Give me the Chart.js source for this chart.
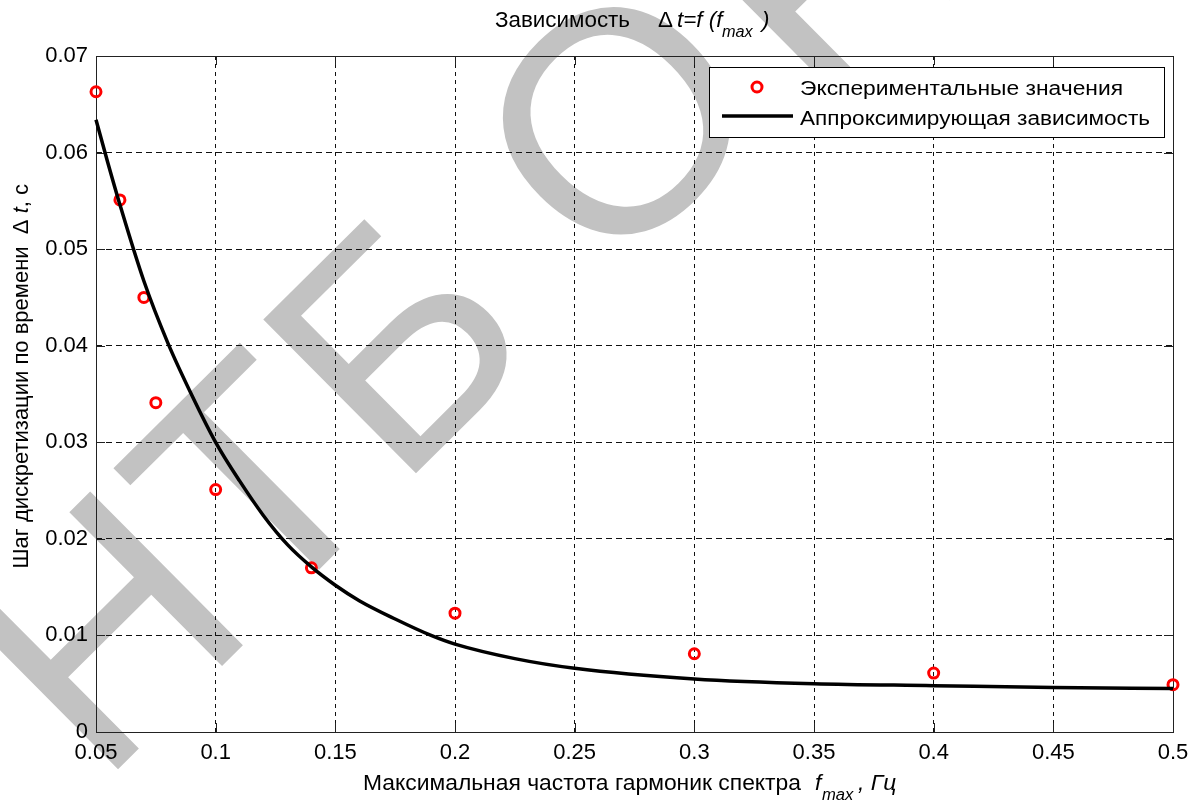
<!DOCTYPE html>
<html><head><meta charset="utf-8">
<script src="https://cdn.jsdelivr.net/npm/chart.js@4"></script>
<style>html,body{margin:0;padding:0;background:#fff;}canvas{display:block}</style>
</head><body>
<canvas id="c" width="1198" height="803"></canvas>
<script>
// ---- data ----
const expX = [0.05, 0.06, 0.07, 0.075, 0.1, 0.14, 0.2, 0.3, 0.4, 0.5];
const expY = [0.0663, 0.0551, 0.0450, 0.0341, 0.0251, 0.0170, 0.0123, 0.0081, 0.0061, 0.0049];
const fitX = [0.05, 0.055, 0.06, 0.07, 0.08, 0.09, 0.1, 0.11, 0.12, 0.13, 0.14, 0.15, 0.16, 0.175, 0.19, 0.2, 0.225, 0.25, 0.3, 0.35, 0.4, 0.45, 0.5];
const fitY = [0.0634, 0.0589, 0.0546, 0.0467, 0.0403, 0.0349, 0.0300, 0.0260, 0.0224, 0.0194, 0.0171, 0.0152, 0.0136, 0.0117, 0.0100, 0.0091, 0.0076, 0.0066, 0.0055, 0.0050, 0.0048, 0.0046, 0.0045];
const xTicks = [0.05, 0.1, 0.15, 0.2, 0.25, 0.3, 0.35, 0.4, 0.45, 0.5];
const xTickLabels = ['0.05', '0.1', '0.15', '0.2', '0.25', '0.3', '0.35', '0.4', '0.45', '0.5'];
const yTicks = [0, 0.01, 0.02, 0.03, 0.04, 0.05, 0.06, 0.07];
const yTickLabels = ['0', '0.01', '0.02', '0.03', '0.04', '0.05', '0.06', '0.07'];
const expLabel = 'Экспериментальные значения';
const fitLabel = 'Аппроксимирующая зависимость';
const watermarkA = 'НТБ О';
const watermarkB = 'НПУ';

const FAM = '"Liberation Sans", Arial, sans-serif';

function txt(ctx, s, x, y, size, italic, sx) {
  ctx.save();
  ctx.font = (italic ? 'italic ' : '') + size + 'px ' + FAM;
  ctx.translate(x, y);
  ctx.scale(sx || 1, 1);
  ctx.textAlign = 'left';
  ctx.textBaseline = 'alphabetic';
  ctx.fillText(s, 0, 0);
  ctx.restore();
}
function width(ctx, s, size, italic) {
  ctx.save();
  ctx.font = (italic ? 'italic ' : '') + size + 'px ' + FAM;
  const w = ctx.measureText(s).width;
  ctx.restore();
  return w;
}
function fitScale(ctx, s, size, italic, target) {
  return target / width(ctx, s, size, italic);
}

const watermark = {
  id: 'watermark',
  beforeDraw(chart) {
    const ctx = chart.ctx;
    ctx.save();
    ctx.fillStyle = '#fff';
    ctx.fillRect(0, 0, chart.width, chart.height);
    ctx.translate(99.7, 787.4);
    ctx.rotate(-44.8 * Math.PI / 180);
    ctx.font = '315px ' + FAM;
    ctx.fillStyle = '#c2c2c2';
    ctx.textBaseline = 'alphabetic';
    ctx.fillText(watermarkA, 0, 0);
    ctx.fillText(watermarkB, 985, 40);
    ctx.restore();
  }
};

const decorations = {
  id: 'decorations',
  beforeDatasetsDraw(chart) {
    const ctx = chart.ctx;
    const a = chart.chartArea;
    const xs = chart.scales.x, ys = chart.scales.y;
    ctx.save();
    ctx.strokeStyle = '#222';
    ctx.lineWidth = 1;
    ctx.setLineDash([]);
    ctx.beginPath();
    xTicks.forEach(v => {
      const p = Math.round(xs.getPixelForValue(v)) + 0.5;
      ctx.moveTo(p, a.bottom); ctx.lineTo(p, a.bottom - 9);
      ctx.moveTo(p, a.top); ctx.lineTo(p, a.top + 9);
    });
    yTicks.forEach(v => {
      const p = Math.round(ys.getPixelForValue(v)) + 0.5;
      ctx.moveTo(a.left, p); ctx.lineTo(a.left + 9, p);
      ctx.moveTo(a.right, p); ctx.lineTo(a.right - 9, p);
    });
    ctx.stroke();
    ctx.strokeRect(Math.round(a.left) + 0.5, Math.round(a.top) + 0.5, Math.round(a.right - a.left), Math.round(a.bottom - a.top));
    ctx.restore();
  },
  afterDraw(chart) {
    const ctx = chart.ctx;
    ctx.save();
    ctx.fillStyle = '#000';
    // title
    const sT = fitScale(ctx, 'Зависимость', 22, false, 135);
    txt(ctx, 'Зависимость', 495, 27, 22, false, sT);
    txt(ctx, 'Δ', 658, 27, 22, false, sT);
    txt(ctx, 't=f (f', 677, 27, 22, true, sT);
    txt(ctx, 'max', 722, 37, 16, true, sT);
    txt(ctx, ')', 762, 27, 22, true, sT);
    // x label
    const xMain = 'Максимальная частота гармоник спектра';
    const sX = fitScale(ctx, xMain, 22, false, 438);
    txt(ctx, xMain, 363, 790, 22, false, sX);
    txt(ctx, 'f', 815, 790, 22, true, sX);
    txt(ctx, 'max', 822, 800, 16, true, sX);
    txt(ctx, ', Гц', 858, 790, 22, true, sX);
    // y label (rotated), ends at y = 184
    const yMain = 'Шаг дискретизации по времени';
    const wMain = width(ctx, yMain, 22, false);
    const wSp = width(ctx, '  ', 22, false);
    const wD = width(ctx, 'Δ ', 22, false);
    const wt = width(ctx, 't', 22, true);
    const wc = width(ctx, ', с', 22, false);
    const total = wMain + wSp + wD + wt + wc;
    ctx.save();
    ctx.translate(28, 184 + total);
    ctx.rotate(-Math.PI / 2);
    let p = 0;
    txt(ctx, yMain, p, 0, 22, false); p += wMain + wSp;
    txt(ctx, 'Δ', p, 0, 22, false); p += wD;
    txt(ctx, 't', p, 0, 22, true); p += wt;
    txt(ctx, ', с', p, 0, 22, false);
    ctx.restore();
    // legend
    ctx.fillStyle = '#fff';
    ctx.fillRect(709, 67, 455, 70);
    ctx.strokeStyle = '#000';
    ctx.lineWidth = 1;
    ctx.strokeRect(709.5, 67.5, 455, 70);
    ctx.strokeStyle = '#ff0000';
    ctx.lineWidth = 3;
    ctx.beginPath();
    ctx.arc(757, 87, 5, 0, Math.PI * 2);
    ctx.stroke();
    ctx.strokeStyle = '#000';
    ctx.lineWidth = 3.5;
    ctx.beginPath();
    ctx.moveTo(722, 116); ctx.lineTo(793, 116);
    ctx.stroke();
    ctx.fillStyle = '#000';
    txt(ctx, expLabel, 800, 95, 20, false, fitScale(ctx, expLabel, 20, false, 323));
    txt(ctx, fitLabel, 800, 125, 20, false, fitScale(ctx, fitLabel, 20, false, 350));
    ctx.restore();
  }
};

const ctx = document.getElementById('c').getContext('2d');
new Chart(ctx, {
  type: 'scatter',
  data: {
    datasets: [
      {
        type: 'line',
        label: fitLabel,
        data: fitX.map((x, i) => ({ x: x, y: fitY[i] })),
        borderColor: '#000',
        borderWidth: 3.5,
        pointRadius: 0,
        fill: false,
        showLine: true,
        cubicInterpolationMode: 'monotone',
        clip: false
      },
      {
        label: expLabel,
        data: expX.map((x, i) => ({ x: x, y: expY[i] })),
        pointStyle: 'circle',
        pointRadius: 5,
        pointHoverRadius: 5,
        borderColor: '#ff0000',
        backgroundColor: 'rgba(0,0,0,0)',
        borderWidth: 3,
        showLine: false,
        clip: false
      }
    ]
  },
  options: {
    responsive: false,
    animation: false,
    devicePixelRatio: 1,
    events: [],
    layout: { padding: { top: 56, right: 25, left: 0, bottom: 0 } },
    plugins: { legend: { display: false }, title: { display: false }, tooltip: { enabled: false } },
    scales: {
      x: {
        type: 'linear', min: 0.05, max: 0.5,
        afterBuildTicks: s => { s.ticks = xTicks.map(v => ({ value: v })); },
        afterFit: s => { s.height = 71; },
        ticks: {
          callback: (v, i) => xTickLabels[i],
          font: { family: FAM, size: 22 }, color: '#000', padding: 8,
          maxRotation: 0, autoSkip: false
        },
        grid: { color: '#111', lineWidth: 1, drawTicks: false },
        border: { display: false, dash: [4, 4] }
      },
      y: {
        type: 'linear', min: 0, max: 0.07,
        afterBuildTicks: s => { s.ticks = yTicks.map(v => ({ value: v })); },
        afterFit: s => { s.width = 96; },
        ticks: {
          callback: (v, i) => yTickLabels[i],
          font: { family: FAM, size: 22 }, color: '#000', padding: 8,
          autoSkip: false
        },
        grid: { color: '#111', lineWidth: 1, drawTicks: false },
        border: { display: false, dash: [6, 4] }
      }
    }
  },
  plugins: [watermark, decorations]
});
</script>
</body></html>
